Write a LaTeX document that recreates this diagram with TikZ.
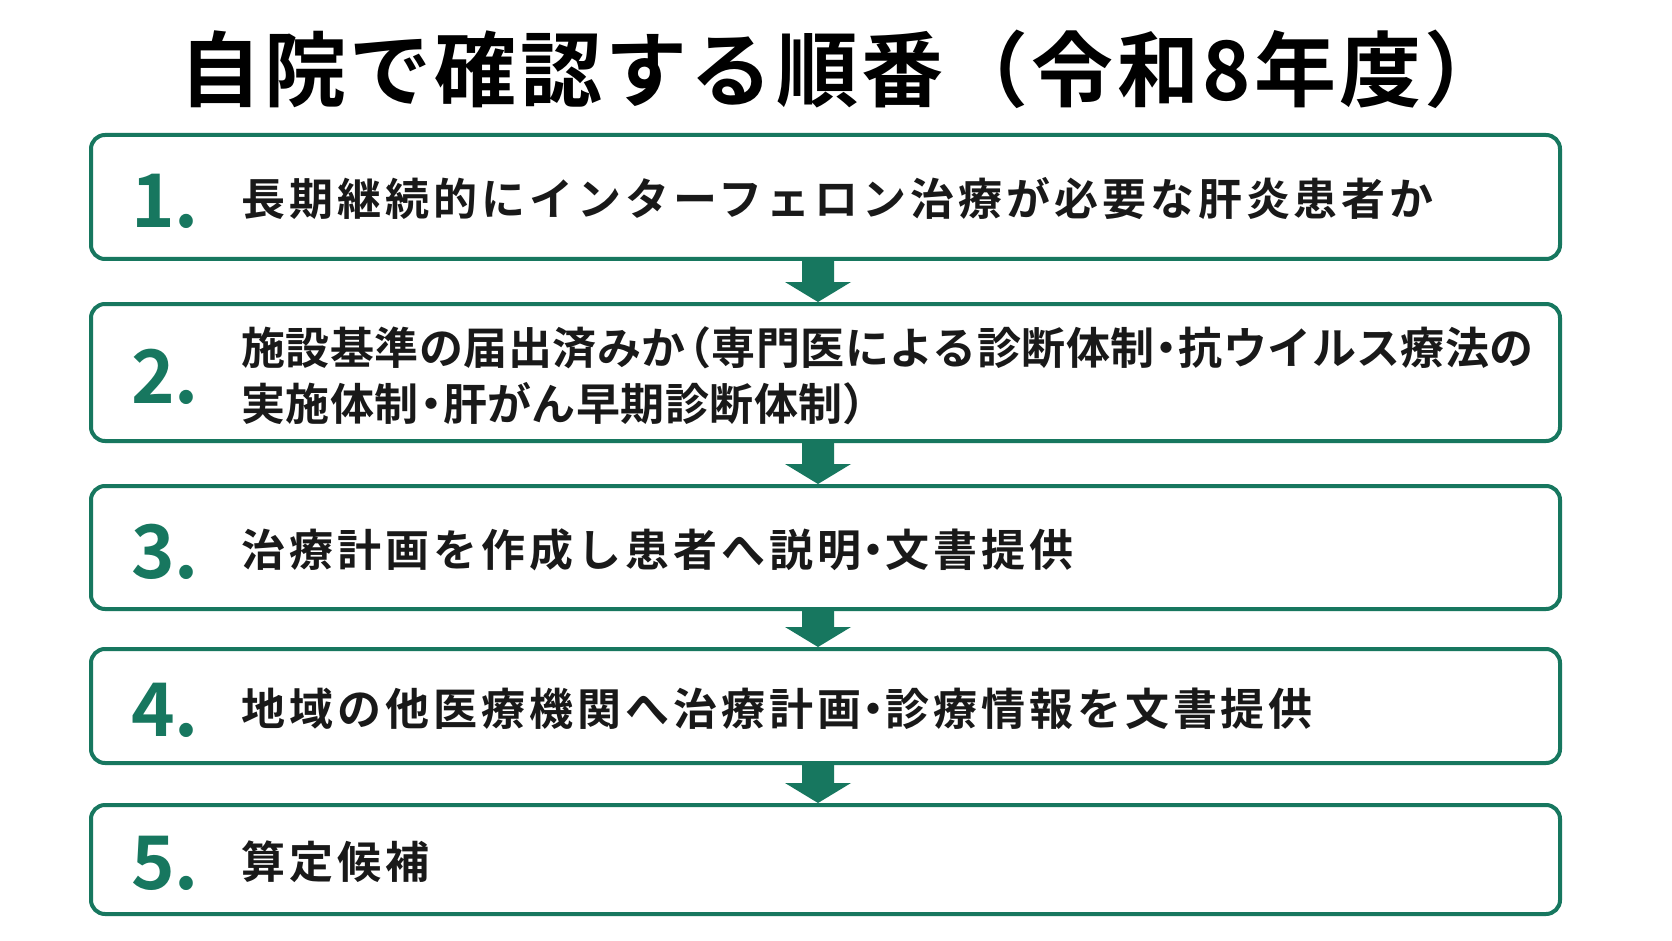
\documentclass[tikz,border=0pt]{standalone}
\usepackage{fontspec}
\setmainfont{Noto Sans CJK JP}[BoldFont={* Bold}]
\newfontfamily\spaced{Noto Sans CJK JP Bold}[LetterSpace=9]
\newfontfamily\lspaced{Noto Sans CJK JP Bold}[LetterSpace=1]
\newfontfamily\tspaced{Noto Sans CJK JP Bold}[LetterSpace=4]
\newcommand{\dt}{\hbox to 0.55em{\hss・\hss}}
\definecolor{grn}{HTML}{17775F}
\begin{document}
\begin{tikzpicture}[x=1pt,y=-1pt,
 box/.style={draw=grn,line width=4pt,rounded corners=14pt,fill=white},
 num/.style={text=grn,font=\fontsize{74}{74}\selectfont\bfseries,anchor=center},
 txt/.style={text=black!90,font=\fontsize{44}{56}\spaced,anchor=west,align=left},
 arr/.style={fill=grn}]
\fill[white] (0,0) rectangle (1672,941);
\useasboundingbox (0,0) rectangle (1672,941);
\node[font=\fontsize{82}{82}\tspaced] (title) at (843,69) {自院で確認する順番（令和8年度）};
\foreach \i/\a/\b in {1/135/259,2/304/441,3/486/609,4/649/763,5/805/914}{
  \draw[box] (91,\a) rectangle (1560,\b);
  \node[num] (n\i) at (165,{(\a+\b)/2+4}) {\i.};
}
\foreach \a/\b in {259/304,441/486,609/649,763/805}{
  \fill[arr] (802,\a+2) -- (834,\a+2) -- (834,\b-22) -- (851,\b-22) -- (818,\b-2) -- (785,\b-22) -- (802,\b-22) -- cycle;
}
\node[txt] (t1) at (238,199) {長期継続的にインターフェロン治療が必要な肝炎患者か};
\node[txt,font=\fontsize{44}{56}\lspaced] (t2) at (238,376) {施設基準の届出済みか\hbox to 0.6em{\hss（}専門医による診断体制\dt 抗ウイルス療法の\\実施体制\dt 肝がん早期診断体制\hbox to 0.6em{）\hss}};
\node[txt] (t3) at (238,550) {治療計画を作成し患者へ説明\dt 文書提供};
\node[txt] (t4) at (238,709) {地域の他医療機関へ治療計画\dt 診療情報を文書提供};
\node[txt] (t5) at (238,862) {算定候補};
\end{tikzpicture}
\end{document}
